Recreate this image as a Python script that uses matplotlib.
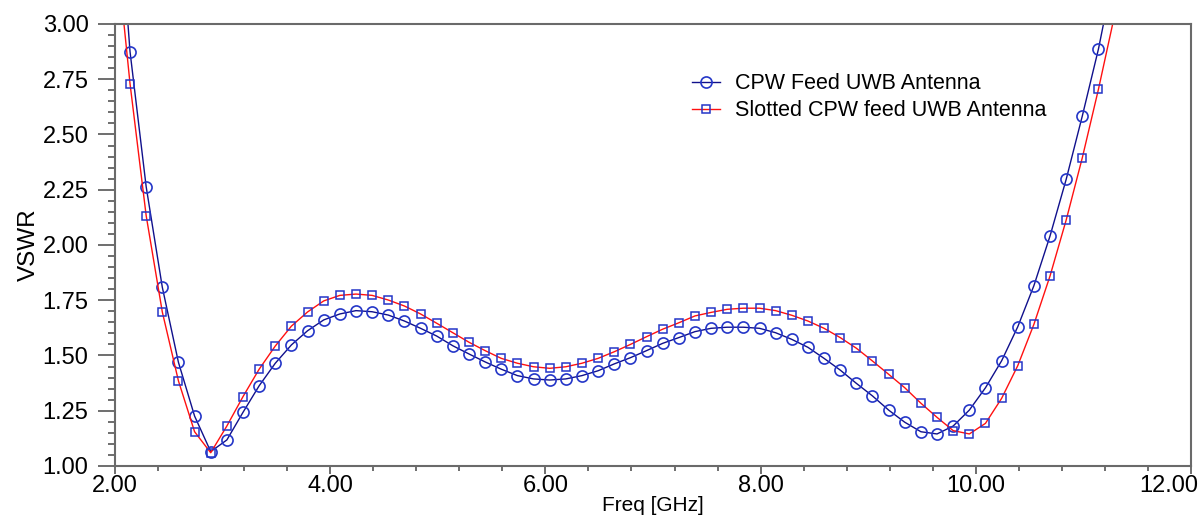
"""
VSWR vs frequency: CPW feed UWB antenna vs slotted CPW feed UWB antenna.
"""
import matplotlib
matplotlib.use("Agg")
import matplotlib.pyplot as plt
from matplotlib.ticker import MultipleLocator, FuncFormatter, FormatStrFormatter

plt.rcParams['font.family'] = ['Liberation Sans', 'DejaVu Sans']

# Frequency sweep [GHz]; first and last two points only carry the line off-axis
freq = [1.99,
        2.14, 2.29, 2.44, 2.59, 2.74, 2.89, 3.04, 3.19, 3.34, 3.49,
        3.64, 3.79, 3.94, 4.09, 4.24, 4.39, 4.54, 4.69, 4.84, 4.99,
        5.14, 5.29, 5.44, 5.59, 5.74, 5.89, 6.04, 6.19, 6.34, 6.49,
        6.64, 6.79, 6.94, 7.09, 7.24, 7.39, 7.54, 7.69, 7.84, 7.99,
        8.14, 8.29, 8.44, 8.59, 8.74, 8.89, 9.04, 9.19, 9.34, 9.49,
        9.64, 9.79, 9.94, 10.09, 10.24, 10.39, 10.54, 10.69, 10.84, 10.99,
        11.14,
        11.29, 11.44]

vswr_cpw = [3.85,
            2.875, 2.264, 1.809, 1.469, 1.226, 1.065, 1.118, 1.243, 1.363, 1.465,
            1.548, 1.612, 1.661, 1.688, 1.703, 1.698, 1.683, 1.656, 1.623, 1.588,
            1.544, 1.507, 1.471, 1.438, 1.409, 1.394, 1.389, 1.394, 1.409, 1.431,
            1.462, 1.490, 1.522, 1.555, 1.581, 1.608, 1.623, 1.628, 1.628, 1.623,
            1.603, 1.573, 1.537, 1.487, 1.434, 1.374, 1.317, 1.253, 1.198, 1.155,
            1.145, 1.181, 1.253, 1.354, 1.476, 1.630, 1.816, 2.041, 2.297, 2.584,
            2.887,
            3.25, 3.70]

vswr_slotted = [3.45,
                2.730, 2.133, 1.697, 1.385, 1.155, 1.060, 1.181, 1.314, 1.438, 1.543,
                1.633, 1.697, 1.747, 1.772, 1.778, 1.772, 1.751, 1.724, 1.688, 1.646,
                1.603, 1.560, 1.522, 1.487, 1.465, 1.449, 1.442, 1.449, 1.465, 1.487,
                1.517, 1.550, 1.585, 1.619, 1.648, 1.679, 1.695, 1.709, 1.714, 1.714,
                1.703, 1.682, 1.656, 1.623, 1.581, 1.533, 1.475, 1.415, 1.354, 1.284,
                1.220, 1.160, 1.145, 1.193, 1.306, 1.454, 1.641, 1.860, 2.113, 2.395,
                2.705,
                3.04, 3.40]

labels = ['CPW Feed UWB Antenna', 'Slotted CPW feed UWB Antenna']
x_max = 12

fig = plt.figure(figsize=(12, 5.16), dpi=100)
ax = fig.add_axes([0.0958, 0.0969, 0.8967, 0.8566])

marks = list(range(1, len(freq) - 2))
ax.plot(freq, vswr_cpw, color='#10108C', lw=1.0, marker='o', ms=8,
        mfc='none', mec='#2436C8', mew=1.2, markevery=marks, label=labels[0])
ax.plot(freq, vswr_slotted, color='#FF1010', lw=1.0, marker='s', ms=5.5,
        mfc='none', mec='#2436C8', mew=1.1, markevery=marks, label=labels[1])

ax.set_xlim(2, x_max)
ax.set_ylim(1, 3)
ax.xaxis.set_major_locator(MultipleLocator(2))
ax.xaxis.set_minor_locator(MultipleLocator(0.4))
ax.yaxis.set_major_locator(MultipleLocator(0.25))
ax.yaxis.set_minor_locator(MultipleLocator(0.05))
# last x label is drawn separately, pulled inside the canvas
ax.xaxis.set_major_formatter(FuncFormatter(
    lambda v, p: '' if v >= x_max - 1e-9 else f'{v:.2f}'))
ax.yaxis.set_major_formatter(FormatStrFormatter('%.2f'))

for side in ['left', 'right', 'top', 'bottom']:
    ax.spines[side].set_color('#6A6A6A')
    ax.spines[side].set_linewidth(1.5)

ax.tick_params(axis='x', which='major', direction='out', length=5.5, width=1.2,
               color='#555555', labelsize=17, pad=1)
ax.tick_params(axis='x', which='minor', direction='out', length=3.5, width=1.2,
               color='#555555')
ax.tick_params(axis='y', which='major', direction='out', length=12, width=1.2,
               color='#555555', labelsize=17, pad=7)
ax.tick_params(axis='y', which='minor', direction='out', length=5, width=1.2,
               color='#555555')

ax.annotate(f'{x_max:.2f}', xy=(1, 0), xycoords='axes fraction',
            xytext=(5, -6.5), textcoords='offset points',
            ha='right', va='top', fontsize=17)

ax.set_xlabel('Freq [GHz]', fontsize=15, labelpad=-1)
ax.set_ylabel('VSWR', fontsize=17.5, labelpad=2)

ax.legend(loc='upper left', bbox_to_anchor=(0.536, 0.888), frameon=False,
          fontsize=15.5, handlelength=1.3, handletextpad=0.7, labelspacing=0.27,
          borderpad=0, borderaxespad=0)

plt.savefig('out.png', dpi=100, facecolor='white')
plt.close()
